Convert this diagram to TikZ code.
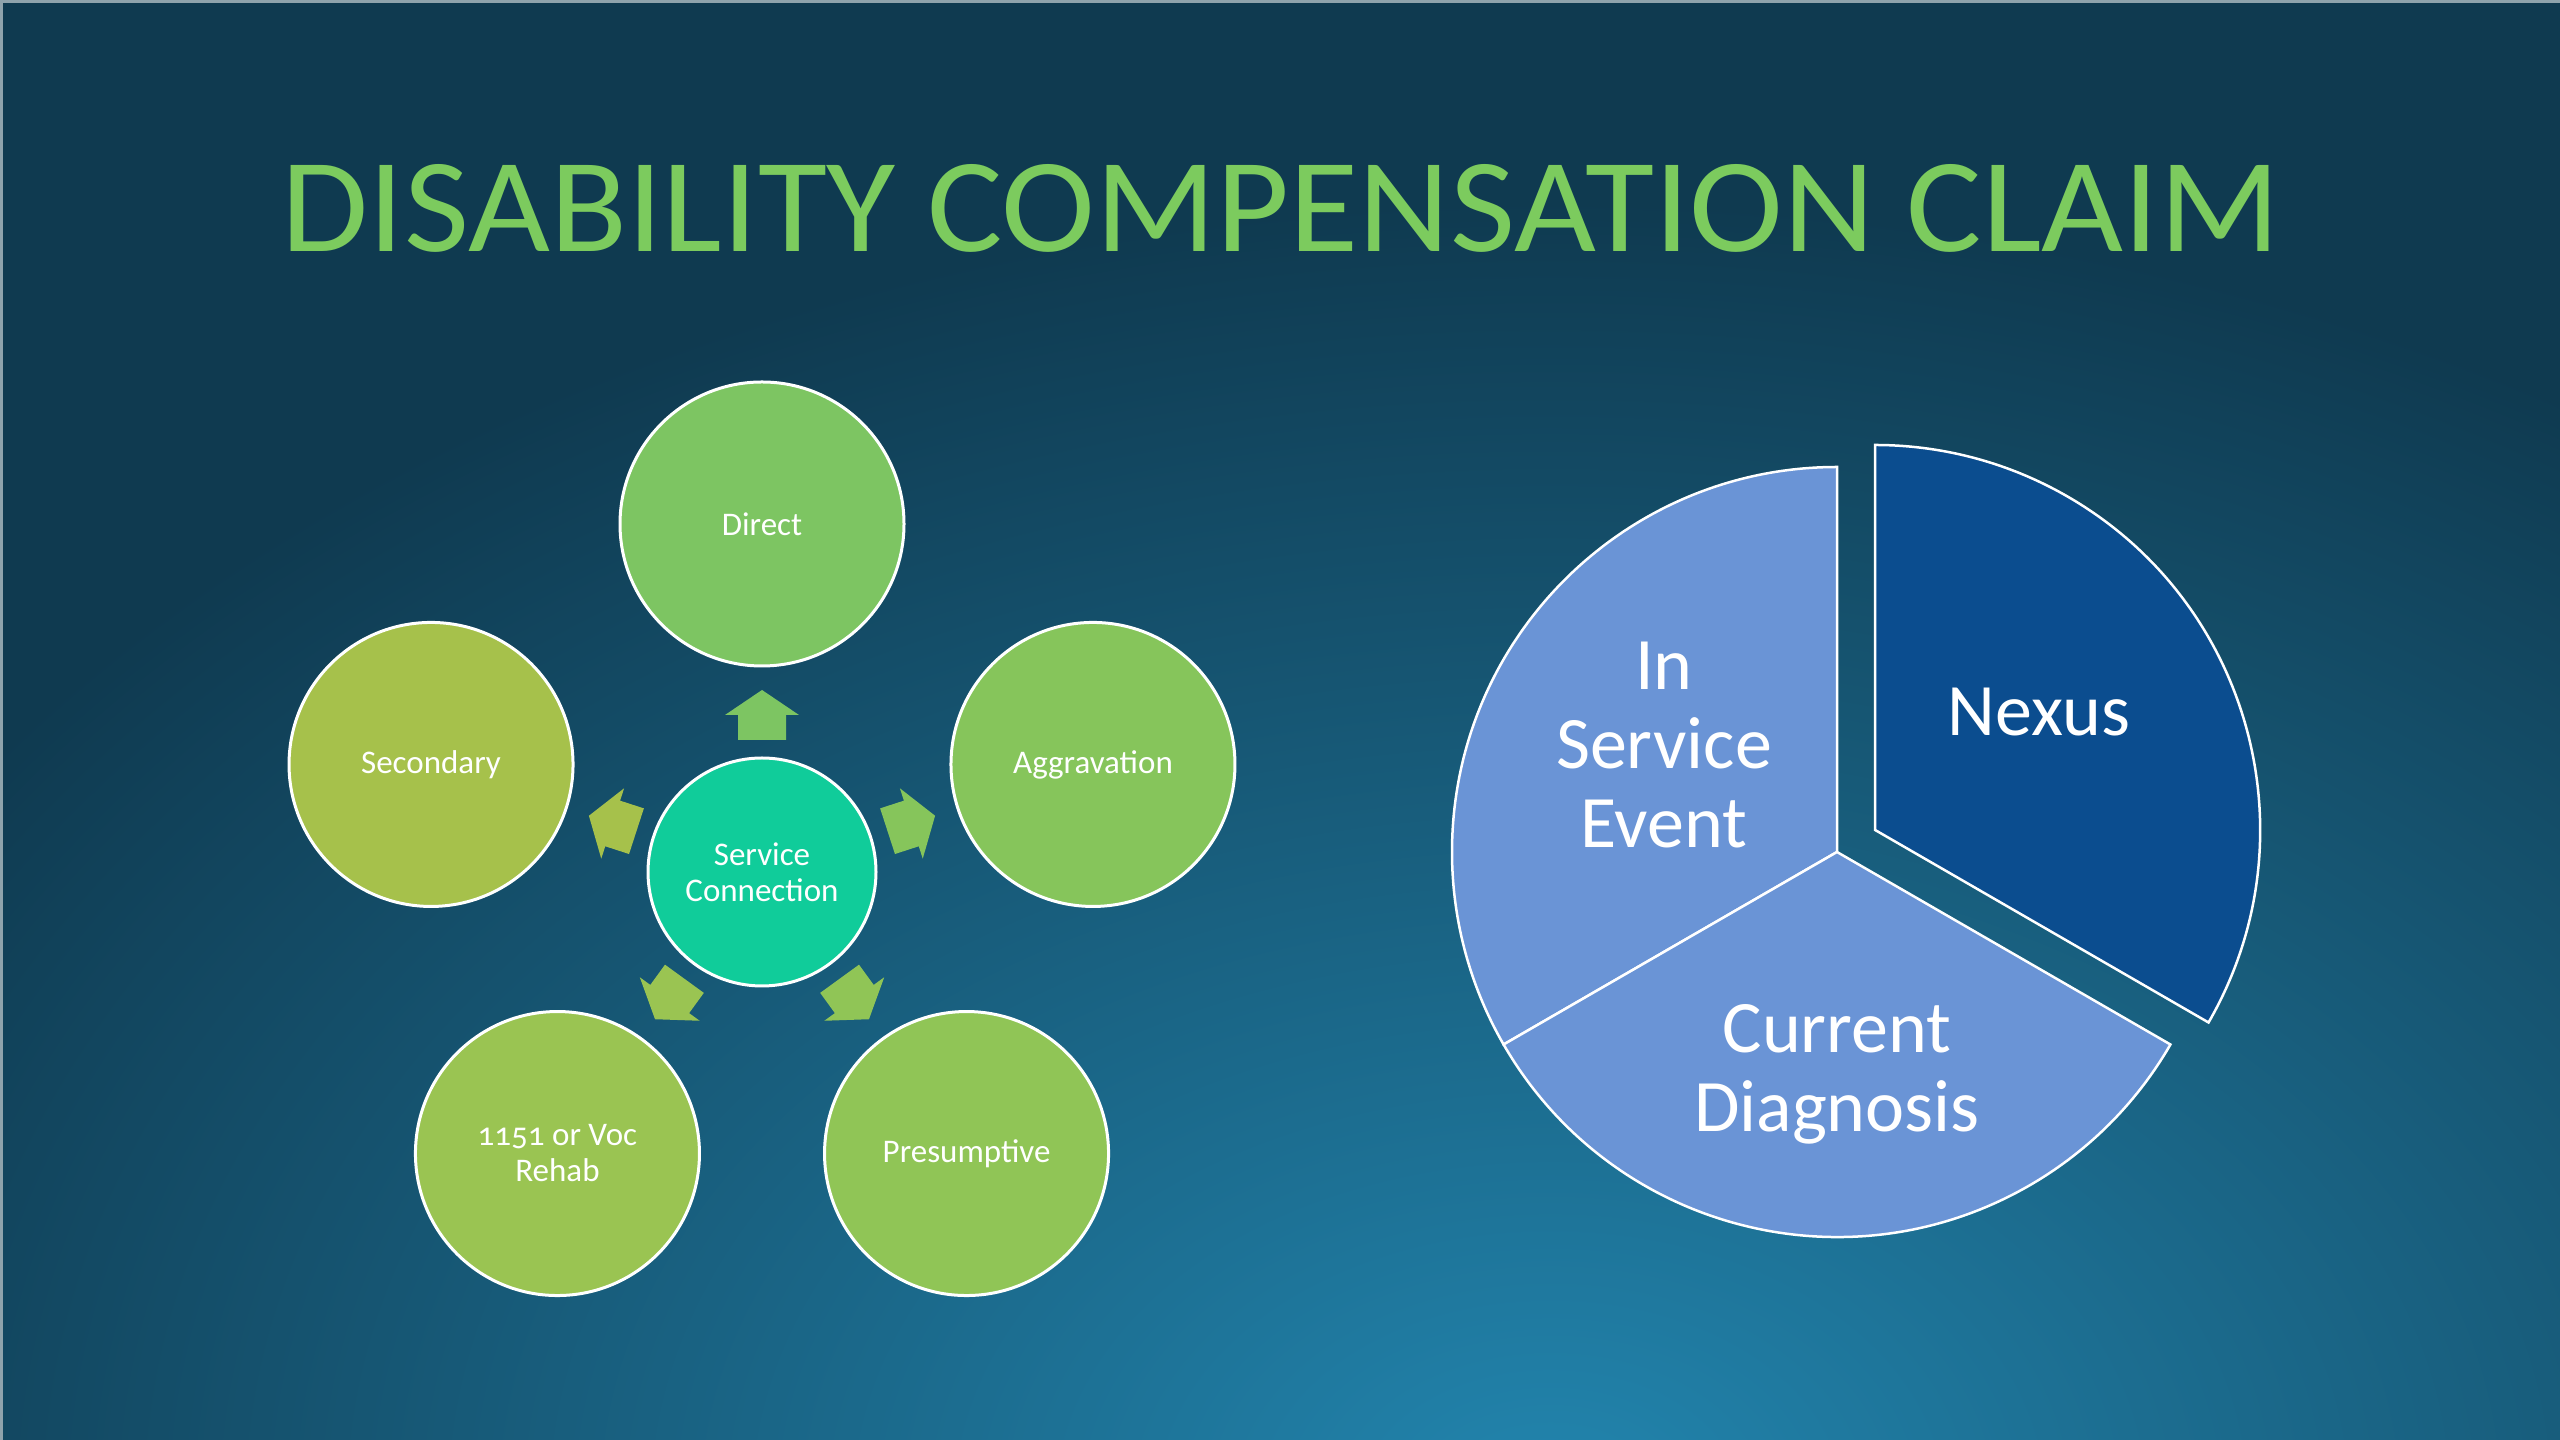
\documentclass[tikz,border=0pt]{standalone}
\usepackage{fontspec}
\usepackage{graphicx}
\setmainfont{Carlito}
\usetikzlibrary{calc}
\definecolor{bgdark}{HTML}{0F3A50}
\definecolor{bglight}{HTML}{2285AE}
\definecolor{edgegray}{HTML}{8FA3AC}
\definecolor{titlegreen}{HTML}{7CCB5E}
\definecolor{cdirect}{HTML}{7DC562}
\definecolor{caggr}{HTML}{86C55B}
\definecolor{cpres}{HTML}{90C556}
\definecolor{cvoc}{HTML}{9AC452}
\definecolor{csec}{HTML}{A6C14B}
\definecolor{ccenter}{HTML}{10CC9A}
\definecolor{pielight}{HTML}{6A94D6}
\definecolor{pienexus}{HTML}{0B4D8F}
\tikzset{
  bub/.style={circle, draw=white, line width=3pt, minimum size=284pt, inner sep=0pt,
    text=white, font=\fontsize{33}{36}\selectfont, align=center},
  blockarrow/.style={fill=#1, draw=none},
  slice/.style={fill=#1, draw=white, line width=2.5pt, line join=miter},
  pietxt/.style={text=white, font=\fontsize{74}{79}\selectfont, align=center, inner sep=0pt}
}
\begin{document}
\begin{tikzpicture}[x=1pt,y=1pt]
\useasboundingbox (0,0) rectangle (2560,1440);
% background
\begin{scope}
  \clip (0,0) rectangle (2560,1440);
  \fill[bgdark] (0,0) rectangle (2560,1440);
  \shade[inner color=bglight, outer color=bgdark] (1550pt,-60pt) ellipse (1900pt and 1300pt);
\end{scope}
\draw[edgegray, line width=3pt] (1.5,0) -- (1.5,1438.5) -- (2560,1438.5);
% title
\node[anchor=base, inner sep=0pt, text=titlegreen] (title) at (1281,1188)
  {\resizebox{1997pt}{87pt}{DISABILITY COMPENSATION CLAIM}};
% radial cycle
\coordinate (C) at (762,568);
\foreach \a/\c in {90/cdirect, 18/caggr, -54/cpres, -126/cvoc, 162/csec}{
  \fill[blockarrow=\c, shift={(C)}, rotate={\a-90}]
    (-24,132) -- (24,132) -- (24,157) -- (37,157) -- (0,182) -- (-37,157) -- (-24,157) -- cycle;
}
\node[bub, fill=ccenter, minimum size=228pt] (sc) at (C) {Service\\Connection};
\node[bub, fill=cdirect] (direct) at ($(C)+(90:348pt)$) {Direct};
\node[bub, fill=caggr] (aggr) at ($(C)+(18:348pt)$) {Aggravation};
\node[bub, fill=cpres] (pres) at ($(C)+(-54:348pt)$) {Presumptive};
\node[bub, fill=cvoc] (voc) at ($(C)+(-126:348pt)$) {\addfontfeatures{Numbers=OldStyle}1151 or Voc\\Rehab};
\node[bub, fill=csec] (sec) at ($(C)+(162:348pt)$) {Secondary};
% pie
\coordinate (P) at (1837,588);
\coordinate (N) at ($(P)+(30:44pt)$);
\filldraw[slice=pielight] (P) -- ++(90:385pt) arc[start angle=90, end angle=210, radius=385pt] -- cycle;
\filldraw[slice=pielight] (P) -- ++(210:385pt) arc[start angle=210, end angle=330, radius=385pt] -- cycle;
\filldraw[slice=pienexus] (N) -- ++(-30:385pt) arc[start angle=-30, end angle=90, radius=385pt] -- cycle;
\node[pietxt] (ise) at (1664,695) {In\\Service\\Event};
\node[pietxt] (nx) at (2039,728) {Nexus};
\node[pietxt] (cd) at (1837,366) {Current\\Diagnosis};
\end{tikzpicture}
\end{document}
